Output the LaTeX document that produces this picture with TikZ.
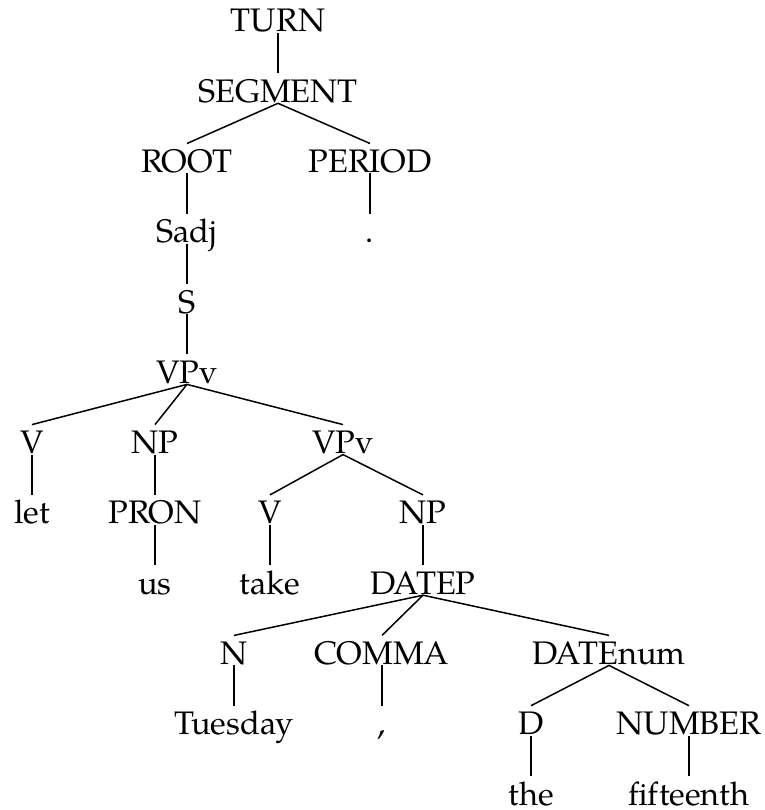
\documentclass[tikz,border=0pt]{standalone}
\usepackage{fontspec}
\setmainfont{texgyrepagella-regular.otf}
\usetikzlibrary{calc}
\tikzset{
  lab/.style={anchor=base, inner sep=0pt, font=\fontsize{32.6}{38}\selectfont},
  edgeline/.style={draw=black, line width=1.5pt}
}
\newcommand{\treeedge}[2]{\draw[edgeline] ($(#1.base)+(0pt,-1pt)$) -- ($(#2.base)+(0pt,29pt)$);}
\begin{document}
\begin{tikzpicture}[x=1pt,y=-1pt]
\useasboundingbox (0,0) rectangle (764,810);
\node[lab] (turn) at (278,32) {TURN};
\node[lab] (seg) at (278,102.3) {SEGMENT};
\node[lab] (root) at (187,172.5) {ROOT};
\node[lab] (period) at (370,172.5) {PERIOD};
\node[lab] (sadj) at (187,242.8) {Sadj};
\node[lab] (dot) at (370,242.8) {.};
\node[lab] (s) at (187,313.1) {S};
\node[lab] (vp1) at (187,383.4) {VPv};
\node[lab] (v1) at (32,453.6) {V};
\node[lab] (np1) at (155,453.6) {NP};
\node[lab] (vp2) at (343,453.6) {VPv};
\node[lab] (let) at (32,523.9) {let};
\node[lab] (pron) at (155,523.9) {PRON};
\node[lab] (v2) at (270,523.9) {V};
\node[lab] (np2) at (423,523.9) {NP};
\node[lab] (us) at (155,594.2) {us};
\node[lab] (take) at (270,594.2) {take};
\node[lab] (datep) at (423,594.2) {DATEP};
\node[lab] (n) at (234,664.4) {N};
\node[lab] (comma) at (382,664.4) {COMMA};
\node[lab] (datenum) at (609,664.4) {DATEnum};
\node[lab] (tues) at (234,734.7) {Tuesday};
\node[lab] (commatok) at (382,734.7) {,};
\node[lab] (d) at (531,734.7) {D};
\node[lab] (number) at (689,734.7) {NUMBER};
\node[lab] (the) at (531,805) {the};
\node[lab] (fifteenth) at (689,805) {fifteenth};
\treeedge{turn}{seg}
\treeedge{seg}{root}
\treeedge{seg}{period}
\treeedge{root}{sadj}
\treeedge{period}{dot}
\treeedge{sadj}{s}
\treeedge{s}{vp1}
\treeedge{vp1}{v1}
\treeedge{vp1}{np1}
\treeedge{vp1}{vp2}
\treeedge{v1}{let}
\treeedge{np1}{pron}
\treeedge{vp2}{v2}
\treeedge{vp2}{np2}
\treeedge{pron}{us}
\treeedge{v2}{take}
\treeedge{np2}{datep}
\treeedge{datep}{n}
\treeedge{datep}{comma}
\treeedge{datep}{datenum}
\treeedge{n}{tues}
\treeedge{comma}{commatok}
\treeedge{datenum}{d}
\treeedge{datenum}{number}
\treeedge{d}{the}
\treeedge{number}{fifteenth}
\end{tikzpicture}
\end{document}
